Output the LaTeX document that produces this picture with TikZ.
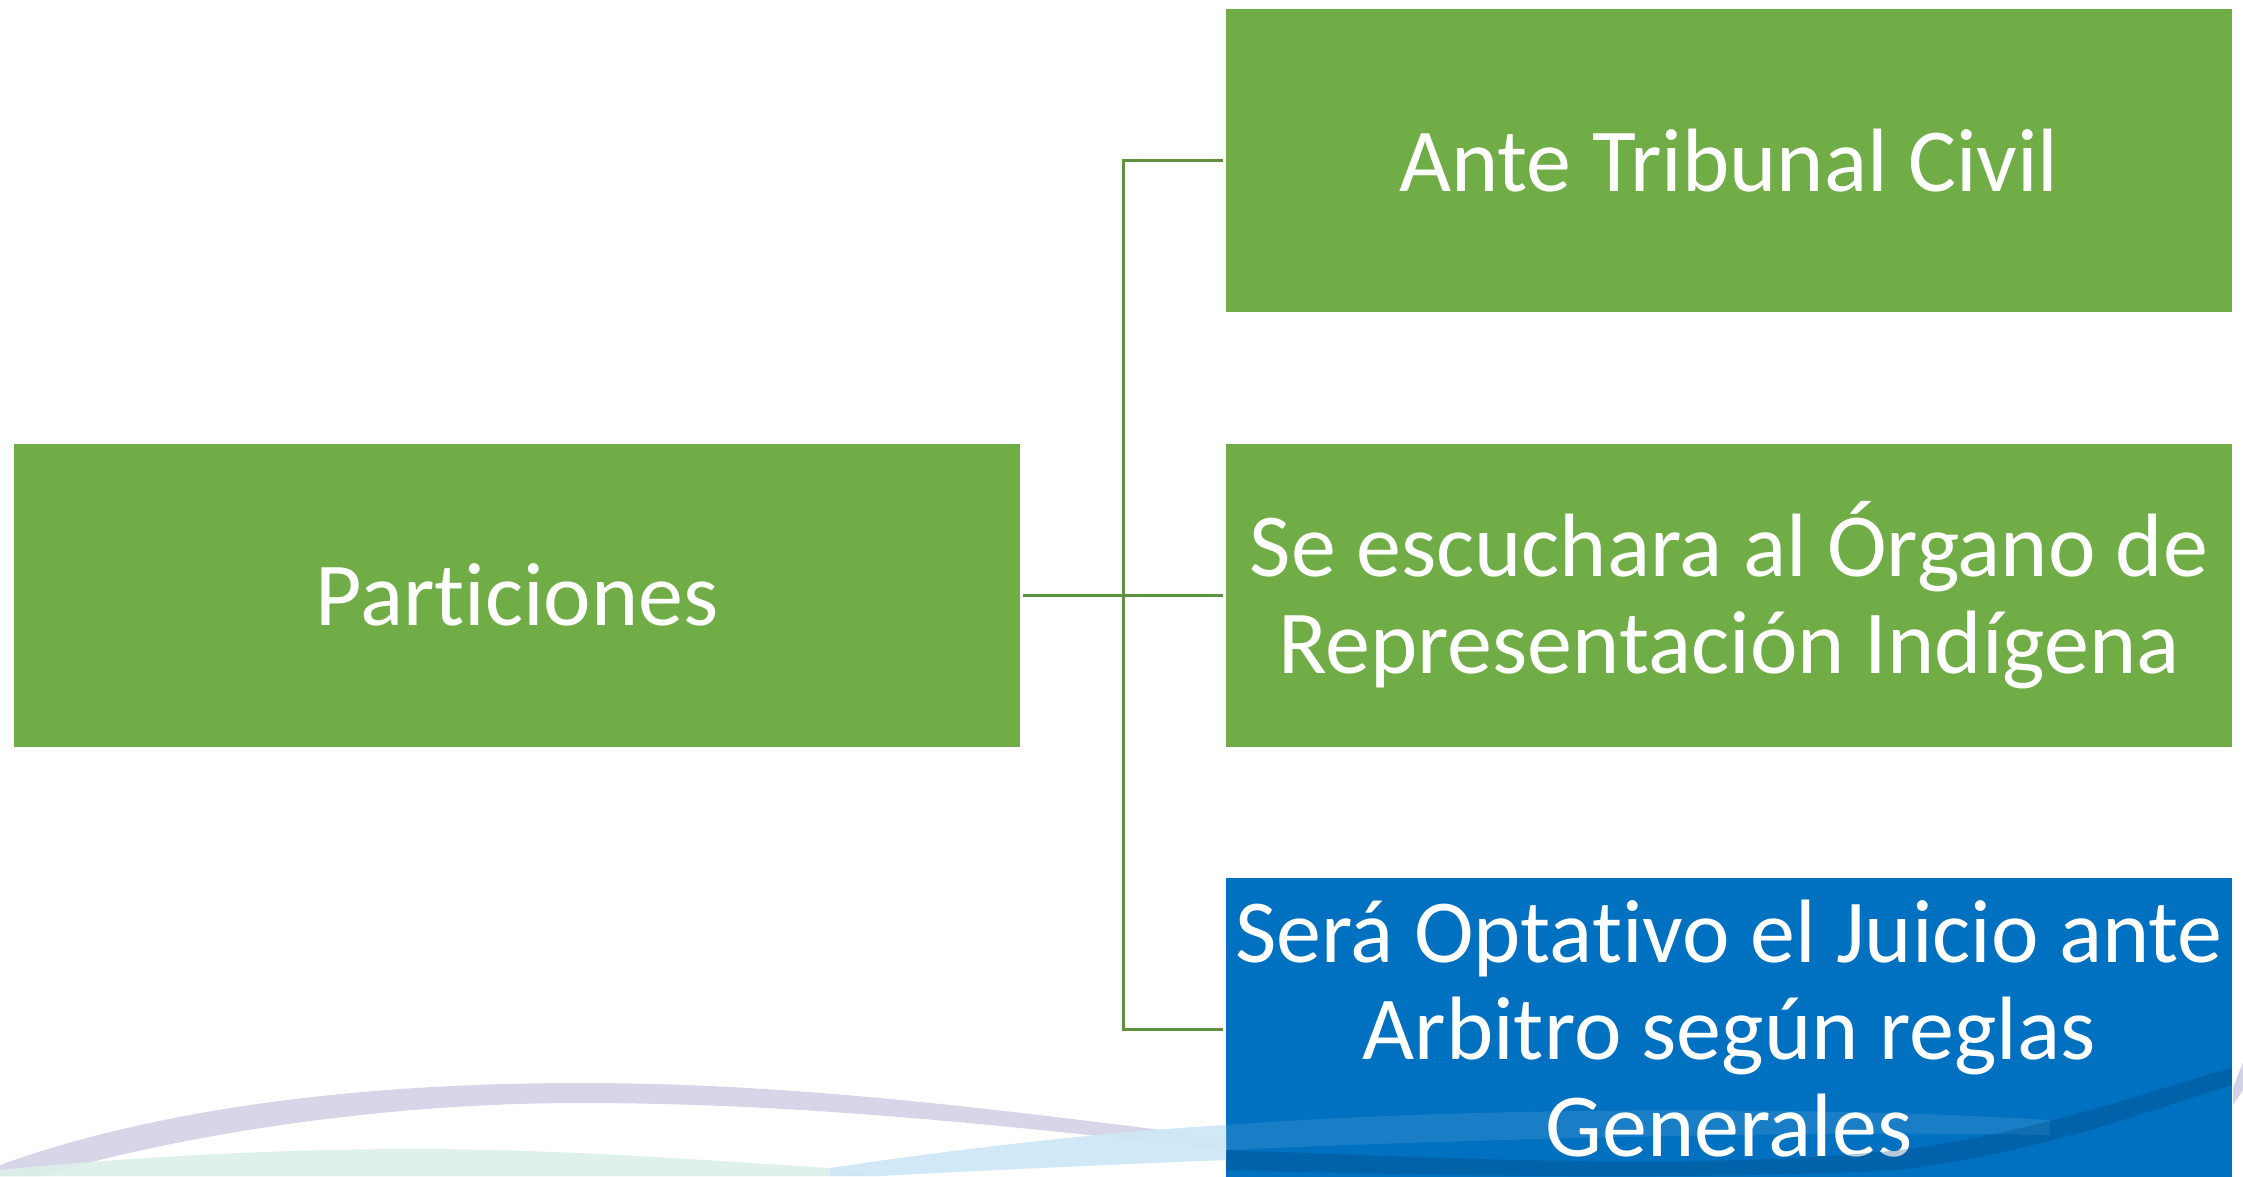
\documentclass[tikz,border=0pt]{standalone}
\usepackage{fontspec}
\setmainfont[Ligatures={NoCommon}]{Carlito}
\definecolor{boxgreen}{HTML}{70AD47}
\definecolor{boxblue}{HTML}{0070C0}
\definecolor{linegreen}{HTML}{5E9140}
\definecolor{lavender}{HTML}{D2D2E6}
\definecolor{mint}{HTML}{DCEFEA}
\definecolor{skyblue}{HTML}{CFE7F6}
\begin{document}
\begin{tikzpicture}[x=1pt,y=-1pt,
  box/.style={rectangle, minimum width=1006pt, minimum height=303pt, inner sep=0pt,
    text=white, align=center, font=\fontsize{90}{97}\selectfont},
  greenbox/.style={box, fill=boxgreen},
  bluebox/.style={box, fill=boxblue},
  conn/.style={draw=linegreen, line width=3pt}]
\useasboundingbox (0,0) rectangle (2243,1176);
\clip (0,0) rectangle (2243,1176);
\node[greenbox] (p) at (517,595) {Particiones};
\node[greenbox] (t) at (1729,160.5) {Ante Tribunal Civil};
\node[greenbox] (m) at (1729,595) {Se escuchara al Órgano de\\Representación Indígena};
\node[bluebox] (b) at (1729,1029) {Será Optativo el Juicio ante\\Arbitro según reglas\\Generales};
\coordinate (c) at (1123,595);
\draw[conn, shorten <=3pt] (p.east) -- (c);
\draw[conn, shorten >=3pt] (c) |- (t.west);
\draw[conn, shorten >=3pt] (c) -- (m.west);
\draw[conn, shorten >=3pt] (c) |- (b.west);
% background swooshes
\fill[lavender, opacity=0.9] (0,1165) .. controls (180,1100) and (400,1083) .. (580,1083)
  .. controls (800,1083) and (1000,1110) .. (1226,1138) -- (1226,1150)
  .. controls (1000,1125) and (800,1103) .. (580,1103)
  .. controls (380,1103) and (180,1135) .. (40,1176) -- (0,1176) -- cycle;
\fill[mint, opacity=0.9] (0,1170) .. controls (150,1155) and (300,1149) .. (415,1149)
  .. controls (560,1149) and (700,1160) .. (830,1168) -- (880,1176) -- (0,1176) -- cycle;
\fill[skyblue, opacity=0.95] (830,1168) .. controls (950,1150) and (1100,1132) .. (1226,1125)
  -- (1226,1160) .. controls (1100,1165) and (950,1172) .. (880,1176) -- (830,1176) -- cycle;
% swooshes over blue box
\fill[white, opacity=0.1] (1226,1125) .. controls (1450,1108) and (1800,1105) .. (2050,1120)
  -- (2050,1135) .. controls (1800,1130) and (1450,1140) .. (1226,1150) -- cycle;
\fill[black!40!boxblue, opacity=0.28] (1226,1150) .. controls (1500,1160) and (1700,1170) .. (1900,1150)
  .. controls (2050,1130) and (2150,1090) .. (2232,1068) -- (2232,1085)
  .. controls (2150,1110) and (2050,1150) .. (1900,1170)
  .. controls (1700,1180) and (1450,1176) .. (1226,1170) -- cycle;
\fill[lavender] (2233,1088) .. controls (2236,1080) and (2240,1070) .. (2243,1062) -- (2243,1090) .. controls (2240,1095) and (2236,1100) .. (2233,1105) -- cycle;
\end{tikzpicture}
\end{document}
